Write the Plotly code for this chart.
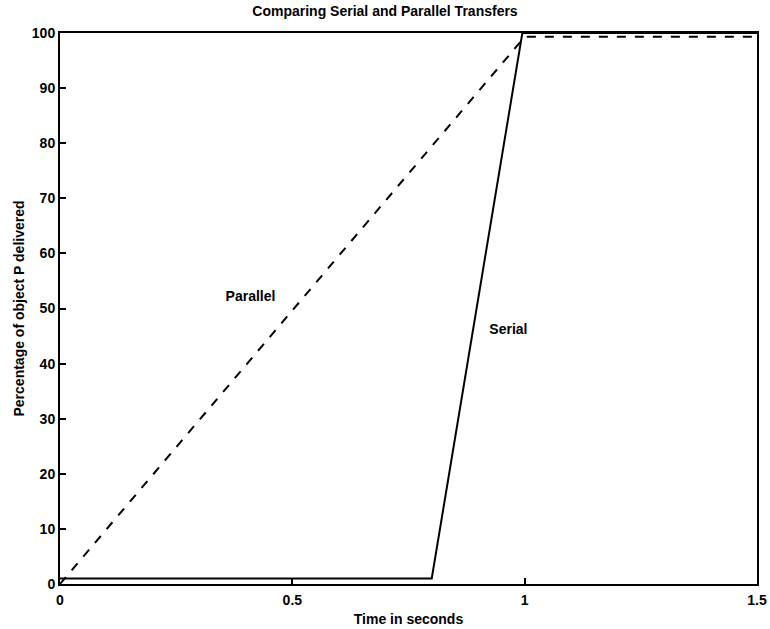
import plotly.graph_objects as go

# Time (s) and percentage of object P delivered
parallel_t = [0.0, 1.0, 1.5]
parallel_pct = [0.0, 99.3, 99.3]

serial_t = [0.0, 0.8, 0.995, 1.5]
serial_pct = [1.0, 1.0, 100.0, 100.0]

x_ticks = [0, 0.5, 1, 1.5]
x_tick_text = ["0", "0.5", "1", "1.5"]
y_ticks = list(range(0, 101, 10))

label_text = ["Parallel", "Serial"]
label_x = [0.41, 0.965]
label_y = [52, 46]

font_family = "Liberation Sans, Arial, Helvetica, sans-serif"

fig = go.Figure()
fig.add_trace(go.Scatter(
    x=parallel_t, y=parallel_pct, mode="lines",
    line=dict(color="black", width=2, dash="dash"), showlegend=False,
))
fig.add_trace(go.Scatter(
    x=serial_t, y=serial_pct, mode="lines",
    line=dict(color="black", width=2), showlegend=False,
))
fig.add_trace(go.Scatter(
    x=label_x, y=label_y, mode="text", text=label_text,
    textfont=dict(family=font_family, size=14, color="black", weight="bold"),
    showlegend=False,
))

axis_common = dict(
    showgrid=False, zeroline=False, showline=True, mirror=True,
    linecolor="black", linewidth=2, ticks="inside", ticklen=6,
    tickcolor="black", tickwidth=1.5, automargin=False,
    tickfont=dict(family=font_family, size=14, color="black", weight="bold"),
)

fig.update_layout(
    width=770, height=629,
    margin=dict(l=60, r=13, t=33, b=45),
    paper_bgcolor="white", plot_bgcolor="white",
    title=dict(
        text="Comparing Serial and Parallel Transfers",
        x=0.5, xanchor="center", y=0.99, yanchor="top",
        font=dict(family=font_family, size=14, color="black", weight="bold"),
    ),
    xaxis=dict(
        range=[0, 1.5], tickvals=x_ticks, ticktext=x_tick_text,
        ticklabelstandoff=2,
        title=dict(text="Time in seconds", standoff=7,
                   font=dict(family=font_family, size=14, color="black", weight="bold")),
        **axis_common,
    ),
    yaxis=dict(
        range=[0, 100], tickvals=y_ticks,
        title=dict(text="Percentage of object P delivered", standoff=4,
                   font=dict(family=font_family, size=14, color="black", weight="bold")),
        **axis_common,
    ),
)

fig.write_html("out.html")
